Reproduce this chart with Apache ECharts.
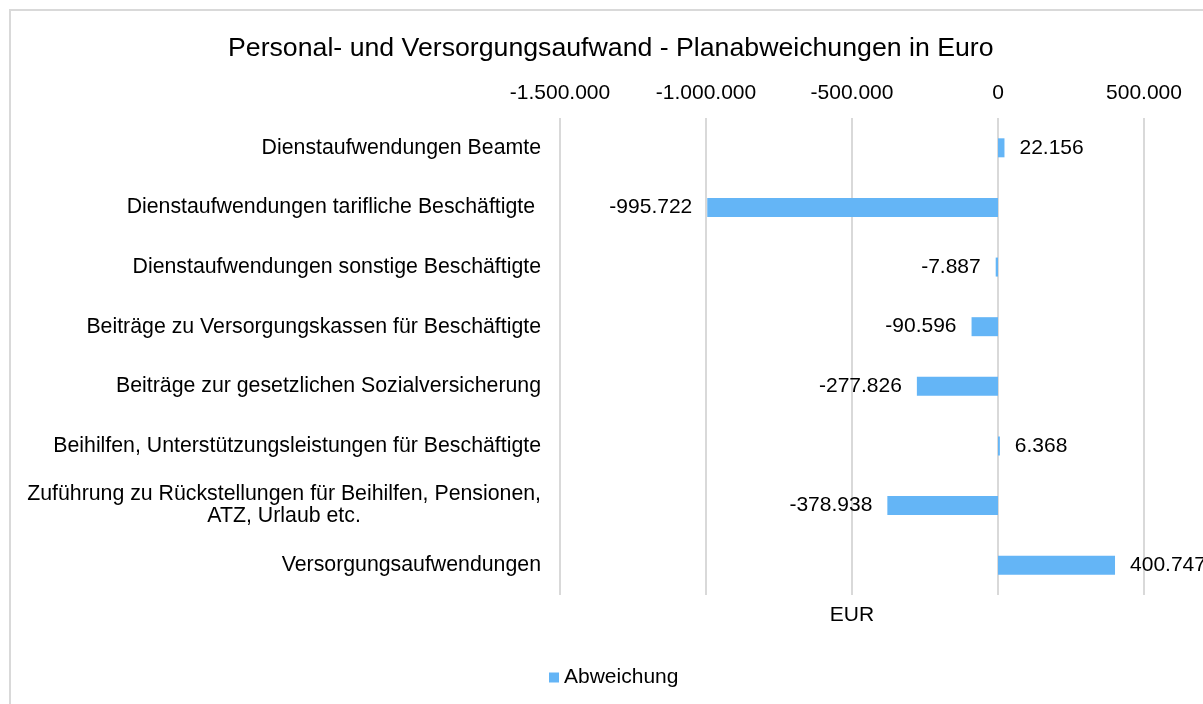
<!DOCTYPE html>
<html>
<head>
<meta charset="utf-8">
<script src="https://cdn.jsdelivr.net/npm/echarts@6/dist/echarts.min.js"></script>
<style>
  html, body { margin: 0; padding: 0; background: #fff; }
  #chart { width: 1203px; height: 704px; }
</style>
</head>
<body>
<div id="chart"></div>
<script>
// Planabweichungen je Aufwandsart (EUR)
const categories = [
  'Dienstaufwendungen Beamte',
  'Dienstaufwendungen tarifliche Beschäftigte ',
  'Dienstaufwendungen sonstige Beschäftigte',
  'Beiträge zu Versorgungskassen für Beschäftigte',
  'Beiträge zur gesetzlichen Sozialversicherung',
  'Beihilfen, Unterstützungsleistungen für Beschäftigte',
  'Zuführung zu Rückstellungen für Beihilfen, Pensionen,\nATZ, Urlaub etc.',
  'Versorgungsaufwendungen'
];
const abweichung = [22156, -995722, -7887, -90596, -277826, 6368, -378938, 400747];
const axisMin = -1500000;
const axisMax = 500000;
const axisStep = 500000;

const FONT = '"Liberation Sans", Arial, sans-serif';
const BLUE = '#64B5F6';

// deutsche Tausenderpunkte
function fmt(v) {
  const s = String(Math.abs(Math.round(v))).replace(/\B(?=(\d{3})+(?!\d))/g, '.');
  return (v < 0 ? '-' : '') + s;
}

const chart = echarts.init(document.getElementById('chart'));

chart.setOption({
  animation: false,
  textStyle: { fontFamily: FONT },
  graphic: [{
    type: 'rect',
    shape: { x: 10, y: 10, width: 1400, height: 900 },
    style: { fill: 'none', stroke: '#d9d9d9', lineWidth: 2 },
    silent: true
  }],
  title: {
    text: 'Personal- und Versorgungsaufwand - Planabweichungen in Euro',
    left: 223,
    top: 30,
    textStyle: { fontFamily: FONT, fontSize: 26.7, fontWeight: 'normal', color: '#000' }
  },
  legend: {
    data: ['Abweichung'],
    left: 544,
    top: 662,
    icon: 'rect',
    itemWidth: 10,
    itemHeight: 10,
    itemGap: 10,
    textStyle: { fontFamily: FONT, fontSize: 21, color: '#000', padding: [0, 0, 0, 0] }
  },
  grid: { left: 560, right: 59, top: 118, bottom: 109, containLabel: false },
  xAxis: [{
    type: 'value',
    position: 'top',
    min: axisMin,
    max: axisMax,
    interval: axisStep,
    axisLine: { show: false },
    axisTick: { show: false },
    axisLabel: { fontFamily: FONT, fontSize: 21, color: '#000', margin: 14, formatter: fmt },
    splitLine: { lineStyle: { color: '#d9d9d9', width: 2 } }
  }, {
    type: 'value',
    position: 'bottom',
    min: axisMin,
    max: axisMax,
    interval: axisStep,
    name: 'EUR',
    nameLocation: 'middle',
    nameGap: 10,
    nameTextStyle: { fontFamily: FONT, fontSize: 21, color: '#000' },
    axisLine: { show: false },
    axisTick: { show: false },
    axisLabel: { show: false },
    splitLine: { show: false }
  }],
  yAxis: {
    type: 'category',
    inverse: true,
    data: categories,
    axisLine: { show: false },
    axisTick: { show: false },
    axisLabel: {
      fontFamily: FONT,
      fontSize: 21.3,
      color: '#000',
      margin: 19,
      lineHeight: 22,
      formatter: v => v.split('\n').map(l => '{c|' + l + '}').join('\n'),
      rich: { c: { align: 'center', fontFamily: FONT, fontSize: 21.3, color: '#000', lineHeight: 22 } }
    }
  },
  series: [{
    name: 'Abweichung',
    type: 'bar',
    xAxisIndex: 0,
    barWidth: 19,
    itemStyle: { color: BLUE },
    data: abweichung.map(v => ({
      value: v,
      label: { position: v < 0 ? 'left' : 'right' }
    })),
    label: {
      show: true,
      distance: 15,
      fontFamily: FONT,
      fontSize: 21,
      color: '#000',
      formatter: p => fmt(p.value)
    }
  }]
});
</script>
</body>
</html>
